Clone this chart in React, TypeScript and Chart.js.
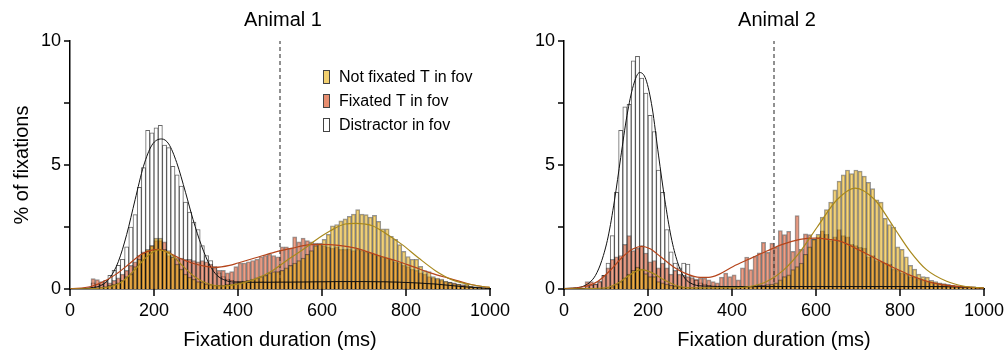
import React, { useEffect, useRef } from "react";
import { Chart, registerables } from "chart.js";

Chart.register(...registerables);

const FONT = "'Liberation Sans', Arial, Helvetica, sans-serif";

// bin centres (ms), 10 ms bins
const BIN_MS = [5, 15, 25, 35, 45, 55, 65, 75, 85, 95, 105, 115, 125, 135, 145, 155, 165, 175, 185, 195, 205, 215, 225, 235, 245, 255, 265, 275, 285, 295, 305, 315, 325, 335, 345, 355, 365, 375, 385, 395, 405, 415, 425, 435, 445, 455, 465, 475, 485, 495, 505, 515, 525, 535, 545, 555, 565, 575, 585, 595, 605, 615, 625, 635, 645, 655, 665, 675, 685, 695, 705, 715, 725, 735, 745, 755, 765, 775, 785, 795, 805, 815, 825, 835, 845, 855, 865, 875, 885, 895, 905, 915, 925, 935, 945, 955, 965, 975, 985, 995];

const X_TICKS = [0, 200, 400, 600, 800, 1000];
const Y_TICKS = [0, 2.5, 5, 7.5, 10];
const Y_LABELS = ["0", "", "5", "", "10"];

const SERIES_NAMES = ["Not fixated T in fov", "Fixated T in fov", "Distractor in fov"];
const PANEL_TITLES = ["Animal 1", "Animal 2"];
const X_TITLE = "Fixation duration (ms)";
const Y_TITLE = "% of fixations";
const CRITERION_MS = 500;

// ---------- Animal 1 histograms (% of fixations per 10 ms bin) ----------
const A1_DIST = [
  0, 0, 0, 0, 0, 0.25, 0.2, 0.2, 0.35, 0.55,
  0.75, 0.95, 1.2, 1.7, 2.5, 3.0, 4.1, 4.9, 6.4, 6.3,
  6.5, 6.6, 5.8, 5.7, 4.95, 4.6, 4.15, 3.5, 3.1, 2.7,
  2.4, 1.75, 1.35, 1.15, 0.9, 0.65, 0.5, 0.4, 0.35, 0.32,
  0.3, 0.3, 0.28, 0.3, 0.3, 0.32, 0.3, 0.28, 0.3, 0.32,
  0.3, 0.3, 0.28, 0.3, 0.32, 0.3, 0.3, 0.3, 0.32, 0.3,
  0.28, 0.3, 0.3, 0.32, 0.3, 0.3, 0.3, 0.28, 0.3, 0.3,
  0.32, 0.3, 0.3, 0.28, 0.3, 0.3, 0.28, 0.3, 0.28, 0.27,
  0.28, 0.26, 0.25, 0.26, 0.24, 0.22, 0.22, 0.2, 0.18, 0.17,
  0.15, 0.13, 0.12, 0.1, 0.08, 0.07, 0.06, 0.05, 0.04, 0.03,
];
const A1_FIX = [
  0, 0, 0, 0, 0, 0.42, 0.38, 0.3, 0.3, 0.25,
  0.35, 0.45, 0.6, 0.75, 0.95, 1.1, 1.35, 1.5, 1.55, 1.75,
  1.95, 1.95, 1.9, 1.35, 1.3, 1.25, 1.25, 1.2, 1.2, 1.15,
  1.1, 1.15, 1.1, 1.0, 0.85, 0.75, 0.75, 0.65, 0.7, 0.9,
  1.05, 1.05, 1.1, 1.15, 1.2, 1.3, 1.35, 1.4, 1.35, 1.3,
  1.7, 1.7, 1.65, 2.1, 1.9, 2.05, 1.95, 1.9, 1.85, 1.8,
  1.75, 1.7, 1.65, 1.7, 1.6, 1.6, 1.62, 1.55, 1.6, 1.55,
  1.5, 1.45, 1.4, 1.35, 1.3, 1.25, 1.2, 1.1, 1.05, 0.95,
  0.9, 0.8, 0.75, 0.65, 0.6, 0.5, 0.45, 0.4, 0.35, 0.3,
  0.28, 0.25, 0.2, 0.18, 0.15, 0.12, 0.1, 0.08, 0.06, 0.04,
];
const A1_NOT = [
  0, 0, 0, 0, 0, 0.05, 0.05, 0.08, 0.1, 0.15,
  0.2, 0.25, 0.35, 0.5, 0.6, 0.9, 1.2, 1.45, 1.6, 1.75,
  2.05, 2.05, 1.6, 1.55, 1.3, 1.0, 0.8, 0.6, 0.48, 0.4,
  0.3, 0.28, 0.2, 0.18, 0.15, 0.15, 0.15, 0.2, 0.22, 0.25,
  0.3, 0.32, 0.35, 0.4, 0.45, 0.5, 0.55, 0.65, 0.7, 0.7,
  0.75, 0.85, 0.95, 1.05, 1.15, 1.25, 1.4, 1.55, 1.75, 1.85,
  2.0, 2.2, 2.55, 2.6, 2.75, 2.83, 2.93, 3.02, 3.2, 3.02,
  3.0, 2.9, 2.97, 2.73, 2.43, 2.43, 2.12, 2.0, 1.79, 1.52,
  1.31, 1.2, 1.2, 0.91, 0.74, 0.7, 0.5, 0.44, 0.4, 0.32,
  0.27, 0.22, 0.2, 0.14, 0.2, 0.12, 0.08, 0.06, 0.05, 0.03,
];

// ---------- Animal 2 histograms ----------
const A2_DIST = [
  0, 0, 0, 0, 0, 0.1, 0.15, 0.2, 0.3, 0.55,
  1.05, 2.15, 3.9, 6.4, 7.35, 7.45, 9.2, 9.38, 8.5, 7.9,
  7.0, 6.35, 4.8, 3.9, 2.4, 1.5, 1.05, 0.85, 1.05, 1.0,
  0.5, 0.35, 0.25, 0.2, 0.15, 0.12, 0.12, 0.1, 0.1, 0.1,
  0.12, 0.1, 0.1, 0.11, 0.1, 0.1, 0.12, 0.1, 0.1, 0.1,
  0.11, 0.1, 0.1, 0.12, 0.1, 0.1, 0.1, 0.11, 0.1, 0.1,
  0.12, 0.1, 0.1, 0.1, 0.11, 0.1, 0.1, 0.12, 0.1, 0.1,
  0.1, 0.11, 0.1, 0.1, 0.1, 0.12, 0.1, 0.1, 0.1, 0.1,
  0.1, 0.1, 0.09, 0.1, 0.1, 0.09, 0.1, 0.09, 0.09, 0.08,
  0.08, 0.08, 0.07, 0.06, 0.06, 0.05, 0.05, 0.04, 0.04, 0.03,
];
const A2_FIX = [
  0, 0, 0, 0, 0, 0.3, 0.3, 0.2, 0.3, 0.55,
  0.85, 1.2, 1.3, 1.35, 1.8, 2.15, 1.55, 1.65, 1.75, 1.45,
  1.1, 1.15, 0.85, 1.05, 0.85, 0.6, 0.75, 0.6, 0.55, 0.5,
  0.45, 0.4, 0.44, 0.44, 0.37, 0.3, 0.25, 0.48, 0.64, 0.5,
  0.57, 0.37, 0.85, 1.29, 0.78, 1.32, 1.46, 1.88, 1.48, 1.85,
  1.68, 2.36, 2.19, 2.33, 1.52, 2.96, 1.6, 2.22, 2.19, 2.0,
  2.1, 2.35, 2.2, 1.95, 2.1, 2.4, 2.15, 2.1, 1.8, 1.75,
  1.68, 1.65, 1.3, 1.35, 1.15, 1.1, 1.05, 1.0, 0.8, 0.75,
  0.65, 0.6, 0.5, 0.48, 0.4, 0.37, 0.3, 0.27, 0.25, 0.22,
  0.2, 0.18, 0.15, 0.13, 0.12, 0.1, 0.08, 0.07, 0.05, 0.04,
];
const A2_NOT = [
  0, 0, 0, 0, 0, 0.02, 0.02, 0.03, 0.03, 0.04,
  0.05, 0.1, 0.2, 0.3, 0.45, 0.6, 0.75, 0.88, 0.8, 0.62,
  0.5, 0.5, 0.3, 0.25, 0.2, 0.15, 0.12, 0.1, 0.08, 0.07,
  0.06, 0.05, 0.05, 0.05, 0.05, 0.05, 0.05, 0.06, 0.06, 0.07,
  0.08, 0.08, 0.09, 0.1, 0.1, 0.12, 0.15, 0.15, 0.18, 0.2,
  0.25, 0.37, 0.5, 0.57, 0.78, 0.9, 1.05, 1.4, 1.7, 2.0,
  2.2, 2.9, 3.2, 3.5, 4.0, 4.35, 4.6, 4.8, 4.65, 4.8,
  4.75, 4.55, 4.3, 4.05, 3.6, 3.5, 2.85, 2.6, 2.5, 1.7,
  1.6, 1.3, 0.95, 0.8, 0.6, 0.5, 0.48, 0.35, 0.3, 0.25,
  0.22, 0.18, 0.13, 0.12, 0.1, 0.1, 0.08, 0.1, 0.05, 0.04,
];

// ---------- fitted curves ----------
const A1_DIST_FIT_X = [0, 50, 75, 95, 115, 135, 155, 175, 195, 218, 235, 254, 275, 293, 313, 333, 350, 370, 390, 450, 550, 650, 750, 820, 870, 920, 960, 1000];
const A1_DIST_FIT_Y = [0, 0.05, 0.15, 0.45, 1.1, 2.2, 3.6, 4.95, 5.8, 6.05, 5.85, 5.1, 3.9, 2.8, 1.75, 0.95, 0.55, 0.35, 0.28, 0.27, 0.28, 0.3, 0.29, 0.25, 0.2, 0.12, 0.06, 0.02];
const A1_FIX_FIT_X = [0, 50, 80, 110, 140, 170, 195, 212, 230, 260, 290, 320, 345, 380, 400, 440, 488, 530, 567, 600, 640, 680, 700, 740, 780, 820, 860, 900, 940, 970, 1000];
const A1_FIX_FIT_Y = [0, 0.1, 0.3, 0.6, 1.0, 1.4, 1.57, 1.6, 1.5, 1.25, 1.05, 0.92, 0.87, 0.95, 1.05, 1.25, 1.49, 1.65, 1.78, 1.8, 1.76, 1.65, 1.55, 1.32, 1.12, 0.88, 0.64, 0.44, 0.25, 0.13, 0.06];
const A1_NOT_FIT_X = [0, 80, 120, 150, 180, 210, 240, 270, 300, 330, 360, 400, 440, 480, 520, 560, 583, 620, 655, 680, 702, 720, 750, 790, 830, 870, 910, 950, 990, 1000];
const A1_NOT_FIT_Y = [0, 0.05, 0.25, 0.7, 1.25, 1.58, 1.4, 0.9, 0.45, 0.2, 0.12, 0.2, 0.4, 0.72, 1.2, 1.65, 1.95, 2.35, 2.62, 2.65, 2.62, 2.55, 2.26, 1.8, 1.25, 0.74, 0.37, 0.19, 0.08, 0.07];

const A2_DIST_FIT_X = [0, 40, 60, 75, 90, 105, 120, 135, 150, 165, 180, 195, 210, 225, 240, 255, 270, 285, 300, 330, 400, 900, 1000];
const A2_DIST_FIT_Y = [0.02, 0.08, 0.25, 0.55, 1.15, 2.1, 3.55, 5.3, 7.0, 8.2, 8.73, 8.45, 7.3, 5.4, 3.6, 2.1, 1.1, 0.5, 0.25, 0.12, 0.1, 0.1, 0.04];
const A2_FIX_FIT_X = [0, 50, 80, 110, 140, 165, 185, 205, 230, 260, 290, 324, 345, 370, 403, 440, 483, 520, 562, 598, 630, 657, 705, 745, 784, 825, 863, 900, 943, 1000];
const A2_FIX_FIT_Y = [0, 0.1, 0.3, 0.75, 1.3, 1.62, 1.72, 1.62, 1.3, 0.9, 0.62, 0.47, 0.47, 0.6, 0.91, 1.2, 1.53, 1.8, 2.0, 2.05, 2.0, 1.93, 1.55, 1.2, 0.87, 0.55, 0.32, 0.18, 0.1, 0.04];
const A2_NOT_FIT_X = [0, 100, 130, 155, 185, 210, 240, 270, 300, 400, 443, 483, 522, 562, 603, 650, 693, 740, 784, 825, 863, 911, 950, 1000];
const A2_NOT_FIT_Y = [0, 0.05, 0.25, 0.55, 0.78, 0.65, 0.35, 0.12, 0.05, 0.05, 0.1, 0.3, 0.75, 1.5, 2.5, 3.6, 4.07, 3.6, 2.52, 1.5, 0.78, 0.31, 0.12, 0.04];

// ---------- styles ----------
const YELLOW_FILL = "rgba(236,178,20,0.55)";
const SALMON_FILL = "rgba(222,96,58,0.6)";
const DIST_FILL = "#ffffff";
const BAR_EDGE = "rgba(0,0,0,0.42)";
const DIST_EDGE = "rgba(40,40,40,0.7)";
const OLIVE = "#a8881c";
const BROWN = "#b5441a";

const CANVAS_H = 356;

const bars = (vals: number[]) => BIN_MS.map((x, i) => ({ x, y: vals[i] }));
const curve = (xs: number[], ys: number[]) => xs.map((x, i) => ({ x, y: ys[i] }));

const panelTextPlugin = {
  id: "panelText",
  afterDraw(chart: any, _args: any, opts: any) {
    const ctx = chart.ctx as CanvasRenderingContext2D;
    const area = chart.chartArea;
    const xs = chart.scales.x;
    const ys = chart.scales.y;
    ctx.save();
    // tick marks
    ctx.strokeStyle = "#000";
    ctx.lineWidth = 1.5;
    ctx.beginPath();
    X_TICKS.forEach((v) => {
      const px = xs.getPixelForValue(v);
      ctx.moveTo(px, area.bottom);
      ctx.lineTo(px, area.bottom + 7);
    });
    Y_TICKS.forEach((v) => {
      const py = ys.getPixelForValue(v);
      ctx.moveTo(area.left - 6, py);
      ctx.lineTo(area.left, py);
    });
    ctx.stroke();

    ctx.fillStyle = "#000";
    ctx.font = `20px ${FONT}`;
    ctx.textAlign = "center";
    ctx.textBaseline = "alphabetic";
    ctx.fillText(opts.title, opts.titleX, 26);
    ctx.fillText(X_TITLE, (area.left + area.right) / 2, 346);
    if (opts.showYTitle) {
      ctx.save();
      ctx.translate(28, (area.top + area.bottom) / 2);
      ctx.rotate(-Math.PI / 2);
      ctx.fillText(Y_TITLE, 0, 0);
      ctx.restore();
    }
    if (opts.showLegend) {
      const fills = ["rgb(242,208,112)", "rgb(232,142,112)", "#ffffff"];
      ctx.font = `16px ${FONT}`;
      ctx.textAlign = "left";
      ctx.textBaseline = "middle";
      SERIES_NAMES.forEach((name, i) => {
        const cy = 76.5 + i * 24;
        ctx.fillStyle = fills[i];
        ctx.fillRect(323, cy - 6.5, 6, 13);
        ctx.strokeStyle = "#444";
        ctx.lineWidth = 1;
        ctx.strokeRect(323.5, cy - 6, 6, 13);
        ctx.fillStyle = "#000";
        ctx.fillText(name, 339, cy + 1);
      });
    }
    ctx.restore();
  },
};

type Pt = { x: number; y: number };
type PanelProps = {
  left: number;
  width: number;
  title: string;
  titleX: number;
  yAxisWidth: number;
  rightPad: number;
  showYTitle: boolean;
  showLegend: boolean;
  dist: number[];
  fix: number[];
  not: number[];
  distFit: Pt[];
  fixFit: Pt[];
  notFit: Pt[];
};

function Panel(p: PanelProps) {
  const ref = useRef<HTMLCanvasElement | null>(null);
  useEffect(() => {
    if (!ref.current) return;
    const barCommon = {
      type: "bar" as const,
      grouped: false,
      barPercentage: 1,
      categoryPercentage: 1,
      borderWidth: 1,
      borderSkipped: "start" as const,
    };
    const lineCommon = {
      type: "line" as const,
      pointRadius: 0,
      fill: false,
      cubicInterpolationMode: "monotone" as const,
    };
    const chart = new Chart(ref.current, {
      type: "bar",
      data: {
        datasets: [
          { ...lineCommon, label: "fit " + SERIES_NAMES[0], data: p.notFit, borderColor: OLIVE, borderWidth: 1.2, order: 0 },
          { ...lineCommon, label: "fit " + SERIES_NAMES[1], data: p.fixFit, borderColor: BROWN, borderWidth: 1.2, order: 0 },
          { ...lineCommon, label: "fit " + SERIES_NAMES[2], data: p.distFit, borderColor: "#111", borderWidth: 1, order: 0 },
          { ...barCommon, label: SERIES_NAMES[0], data: bars(p.not), backgroundColor: YELLOW_FILL, borderColor: BAR_EDGE, order: 1 },
          { ...barCommon, label: SERIES_NAMES[1], data: bars(p.fix), backgroundColor: SALMON_FILL, borderColor: BAR_EDGE, order: 2 },
          { ...barCommon, label: SERIES_NAMES[2], data: bars(p.dist), backgroundColor: DIST_FILL, borderColor: DIST_EDGE, order: 3 },
          {
            type: "line",
            label: "criterion",
            data: [{ x: CRITERION_MS, y: 0 }, { x: CRITERION_MS, y: 10 }],
            borderColor: "#222",
            borderWidth: 1,
            borderDash: [4, 3],
            pointRadius: 0,
            order: 4,
          },
        ] as any,
      },
      options: {
        animation: false,
        responsive: false,
        maintainAspectRatio: false,
        layout: { padding: { left: 0, right: p.rightPad, top: 41, bottom: 0 } },
        plugins: {
          legend: { display: false },
          tooltip: { enabled: false },
          title: { display: false },
          panelText: { title: p.title, titleX: p.titleX, showYTitle: p.showYTitle, showLegend: p.showLegend },
        } as any,
        scales: {
          x: {
            type: "linear",
            min: 0,
            max: 1000,
            offset: false,
            afterBuildTicks: (s: any) => {
              s.ticks = X_TICKS.map((v) => ({ value: v }));
            },
            ticks: {
              autoSkip: false,
              maxRotation: 0,
              padding: 4,
              color: "#000",
              font: { family: FONT, size: 18 },
              callback: (v: any) => String(v),
            },
            grid: { display: false, offset: false, drawTicks: true, tickLength: 7 },
            border: { display: true, color: "#000", width: 1.5 },
            afterFit: (s: any) => {
              s.height = CANVAS_H - 289;
              s.paddingLeft = 0;
              s.paddingRight = 0;
            },
          },
          y: {
            type: "linear",
            min: 0,
            max: 10,
            afterBuildTicks: (s: any) => {
              s.ticks = Y_TICKS.map((v) => ({ value: v }));
            },
            ticks: {
              autoSkip: false,
              padding: 3,
              color: "#000",
              font: { family: FONT, size: 18 },
              callback: (_v: any, i: number) => Y_LABELS[i],
            },
            grid: { display: false, offset: false, drawTicks: true, tickLength: 6 },
            border: { display: true, color: "#000", width: 1.5 },
            afterFit: (s: any) => {
              s.width = p.yAxisWidth;
              s.paddingTop = 0;
              s.paddingBottom = 0;
            },
          },
        } as any,
      },
      plugins: [panelTextPlugin],
    });
    return () => chart.destroy();
  }, []);
  return (
    <canvas
      ref={ref}
      width={p.width}
      height={CANVAS_H}
      style={{ position: "absolute", left: p.left, top: 0, width: p.width, height: CANVAS_H }}
    />
  );
}

export default function App() {
  return (
    <div style={{ position: "fixed", left: 0, top: 0, width: 1006, height: 356, background: "#fff", overflow: "hidden" }}>
      <Panel
        left={0}
        width={520}
        title={PANEL_TITLES[0]}
        titleX={283}
        yAxisWidth={70}
        rightPad={30}
        showYTitle={true}
        showLegend={true}
        dist={A1_DIST}
        fix={A1_FIX}
        not={A1_NOT}
        distFit={curve(A1_DIST_FIT_X, A1_DIST_FIT_Y)}
        fixFit={curve(A1_FIX_FIT_X, A1_FIX_FIT_Y)}
        notFit={curve(A1_NOT_FIT_X, A1_NOT_FIT_Y)}
      />
      <Panel
        left={503}
        width={503}
        title={PANEL_TITLES[1]}
        titleX={274}
        yAxisWidth={61}
        rightPad={22}
        showYTitle={false}
        showLegend={false}
        dist={A2_DIST}
        fix={A2_FIX}
        not={A2_NOT}
        distFit={curve(A2_DIST_FIT_X, A2_DIST_FIT_Y)}
        fixFit={curve(A2_FIX_FIT_X, A2_FIX_FIT_Y)}
        notFit={curve(A2_NOT_FIT_X, A2_NOT_FIT_Y)}
      />
    </div>
  );
}
